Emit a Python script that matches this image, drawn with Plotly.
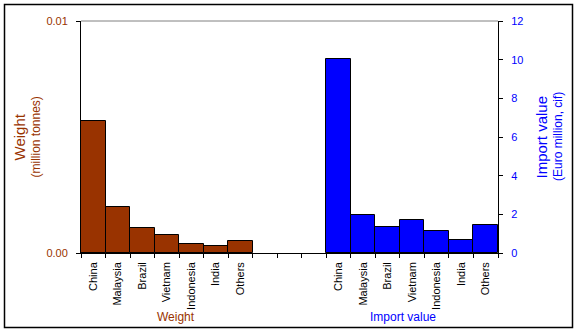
import numpy as np
import plotly.graph_objects as go

# Source countries, shared by both groups
countries = ["China", "Malaysia", "Brazil", "Vietnam", "Indonesia", "India", "Others"]
# Weight, million tonnes
weight = [0.00567, 0.00197, 0.00107, 0.00076, 0.00038, 0.00029, 0.00051]
# Import value, Euro million (cif)
import_value = [10.04, 1.97, 1.33, 1.69, 1.12, 0.66, 1.44]
left_ticks = [0.0, 0.01]
right_ticks = [0, 2, 4, 6, 8, 10, 12]

BROWN = "#993300"
BLUE = "#0000FF"
FONT = "Liberation Sans, Arial, sans-serif"

n = len(countries)
gap = 3
n_slots = 2 * n + gap
pos_w = np.arange(n) + 0.5
pos_v = np.arange(n) + n + gap + 0.5

fig = go.Figure()
fig.add_trace(go.Bar(
    x=pos_w, y=weight, width=1, xaxis="x", yaxis="y",
    marker=dict(color=BROWN, line=dict(color="black", width=1)),
    name="Weight", showlegend=False,
))
fig.add_trace(go.Bar(
    x=pos_v, y=import_value, width=1, xaxis="x2", yaxis="y2",
    marker=dict(color=BLUE, line=dict(color="black", width=1)),
    name="Import value", showlegend=False,
))

W, H = 577, 332
L, R, T, B = 81, 79, 21, 79
pw, ph = W - L - R, H - T - B


def px_x(x):
    return (x - L) / pw


def px_y(y):
    return (H - B - y) / ph


fig.update_layout(
    width=W, height=H,
    margin=dict(l=L, r=R, t=T, b=B, pad=0),
    paper_bgcolor="white", plot_bgcolor="white",
    font=dict(family=FONT, size=11, color="black"),
    bargap=0,
    xaxis=dict(
        range=[0, n_slots], tickvals=list(range(n_slots + 1)),
        ticktext=[""] * (n_slots + 1), ticks="outside", ticklen=4,
        tickcolor="black", showline=True, linecolor="black", linewidth=1,
        showgrid=False, zeroline=False, anchor="y", fixedrange=True,
    ),
    xaxis2=dict(
        range=[0, n_slots], overlaying="x", anchor="y2", side="bottom",
        tickvals=list(pos_w) + list(pos_v), ticktext=countries + countries,
        tickangle=-90, ticks="", showline=False, showgrid=False,
        zeroline=False, tickfont=dict(size=11, color="black"),
        ticklabelstandoff=6,
    ),
    yaxis=dict(
        range=[0, 0.01], tickvals=left_ticks, tickformat=".2f",
        ticks="outside", ticklen=4, tickcolor="black",
        showline=True, linecolor="black", linewidth=1,
        showgrid=False, zeroline=False, anchor="x",
        tickfont=dict(size=11, color=BROWN), ticklabelstandoff=6,
    ),
    yaxis2=dict(
        range=[0, 12], tickvals=right_ticks, overlaying="y", side="right",
        anchor="x2", ticks="outside", ticklen=4, tickcolor="black",
        showline=True, linecolor="black", linewidth=1,
        showgrid=False, zeroline=False,
        tickfont=dict(size=11, color=BLUE), ticklabelstandoff=6,
    ),
    shapes=[
        # grey top edge of the plot area
        dict(type="line", xref="paper", yref="paper", x0=0, x1=1, y0=1, y1=1,
             line=dict(color="#808080", width=1)),
        # outer chart frame
        dict(type="rect", xref="paper", yref="paper",
             x0=px_x(4.5), x1=px_x(572.5), y0=px_y(327.5), y1=px_y(4.5),
             line=dict(color="black", width=1.5), layer="above"),
    ],
    annotations=[
        dict(text="Weight", xref="paper", yref="paper", x=px_x(18.5), y=0.5,
             textangle=-90, showarrow=False, xanchor="center", yanchor="middle",
             font=dict(size=15, color=BROWN)),
        dict(text="(million tonnes)", xref="paper", yref="paper", x=px_x(35.5), y=0.5,
             textangle=-90, showarrow=False, xanchor="center", yanchor="middle",
             font=dict(size=12, color=BROWN)),
        dict(text="Import value", xref="paper", yref="paper", x=px_x(540.5), y=0.5,
             textangle=-90, showarrow=False, xanchor="center", yanchor="middle",
             font=dict(size=15, color=BLUE)),
        dict(text="(Euro million, cif)", xref="paper", yref="paper", x=px_x(558), y=0.5,
             textangle=-90, showarrow=False, xanchor="center", yanchor="middle",
             font=dict(size=12, color=BLUE)),
        dict(text="Weight", xref="paper", yref="paper", x=px_x(175.5), y=px_y(317),
             showarrow=False, xanchor="center", yanchor="middle",
             font=dict(size=12, color=BROWN)),
        dict(text="Import value", xref="paper", yref="paper", x=px_x(403), y=px_y(317),
             showarrow=False, xanchor="center", yanchor="middle",
             font=dict(size=12, color=BLUE)),
    ],
)

fig.write_html("out.html", config=dict(displayModeBar=False))
